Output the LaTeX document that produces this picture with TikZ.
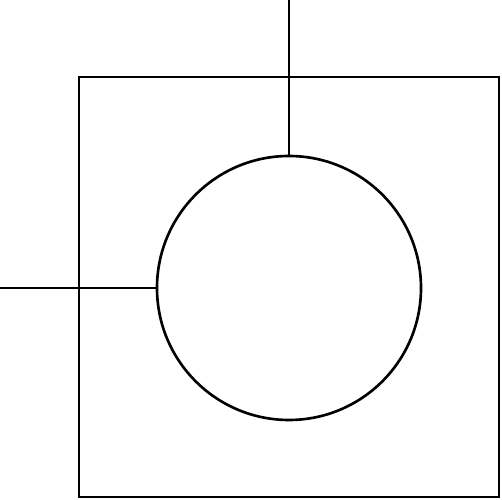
\documentclass[tikz,border=0pt]{standalone}
\usepackage{tikz}
\usetikzlibrary{calc}

\begin{document}
\begin{tikzpicture}
\useasboundingbox (0,0) rectangle (5.02,5.00);
\tikzset{outline/.style={line width=0.75pt, draw=black}}
\node[outline, rectangle, minimum width=4.20cm, minimum height=4.20cm, inner sep=0pt] (box) at (2.89,2.13) {};
\node[outline, circle, minimum size=2.64cm, inner sep=0pt] (hole) at (2.89,2.12) {};
\coordinate (top) at (2.89,5.00);
\coordinate (left) at (0,2.12);
\draw[outline] (top) -- (hole.north);
\draw[outline] (left) -- (hole.west);
\end{tikzpicture}
\end{document}
